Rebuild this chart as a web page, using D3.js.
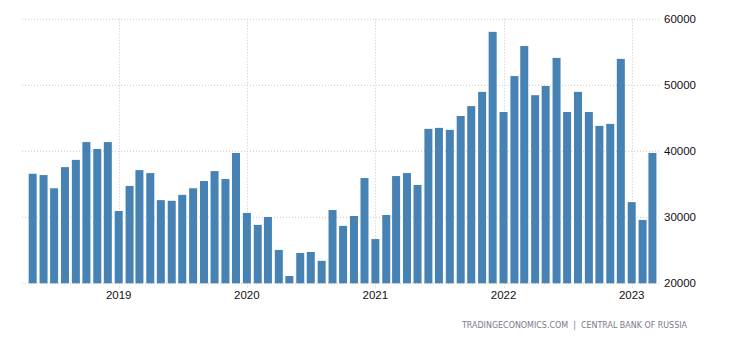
<!DOCTYPE html>
<html><head><meta charset="utf-8">
<script src="https://cdn.jsdelivr.net/npm/d3@7"></script>
<style>html,body{margin:0;padding:0;background:#fff;}svg{display:block;}</style>
</head><body>
<script>
// Monthly values, May 2018 – Mar 2023
const startMonth = "2018-05";
const values = [
  36600, 36400, 34400, 37600, 38700, 41400, 40350, 41400,
  30950, 34750, 37150, 36700, 32600, 32500, 33400, 34400, 35500, 37000, 35800, 39750,
  30650, 28850, 30050, 25050, 21100, 24600, 24750, 23400, 31100, 28700, 30200, 35950,
  26700, 30350, 36250, 36700, 34900, 43400, 43550, 43250, 45350, 46850, 49000, 58100,
  45950, 51400, 55950, 48500, 49900, 54150, 45950, 49000, 45950, 43850, 44150, 54000,
  32300, 29600, 39750
];
const yTicks = [20000, 30000, 40000, 50000, 60000];
const xTickYears = [2019, 2020, 2021, 2022, 2023];
const sourceText = "TRADINGECONOMICS.COM  |  CENTRAL BANK OF RUSSIA";

const W = 730, H = 340;
const parse = d3.timeParse("%Y-%m");
const start = parse(startMonth);
const data = values.map((v, i) => ({ date: d3.timeMonth.offset(start, i), value: v }));

const svg = d3.select("body").append("svg").attr("width", W).attr("height", H);

const x = d3.scaleTime()
  .domain([new Date(2019, 0, 1), new Date(2023, 0, 1)])
  .range([118.7, 631.7]);
const y = d3.scaleLinear().domain([20000, 60000]).range([283.3, 19.3]);

const plotLeft = 22, plotRight = 661;
const gridColor = "#c8c8c8";

// horizontal grid
svg.append("g").selectAll("line").data(yTicks).join("line")
  .attr("x1", plotLeft).attr("x2", plotRight)
  .attr("y1", d => y(d)).attr("y2", d => y(d))
  .attr("stroke", gridColor).attr("stroke-width", 1)
  .attr("stroke-dasharray", "1,2");

// vertical grid
const xTicks = xTickYears.map(yr => new Date(yr, 0, 1));
svg.append("g").selectAll("line").data(xTicks).join("line")
  .attr("x1", d => Math.round(x(d)) + 0.5).attr("x2", d => Math.round(x(d)) + 0.5)
  .attr("y1", y(60000)).attr("y2", y(20000) + 4)
  .attr("stroke", gridColor).attr("stroke-width", 1)
  .attr("stroke-dasharray", "1,2");

// bars
const bw = 8;
svg.append("g").selectAll("rect").data(data).join("rect")
  .attr("x", d => x(d.date) - bw / 2)
  .attr("width", bw)
  .attr("y", d => y(d.value))
  .attr("height", d => y(20000) - y(d.value))
  .attr("fill", "#4682b4");

// y labels
svg.append("g").selectAll("text").data(yTicks).join("text")
  .attr("x", 664)
  .attr("y", d => y(d))
  .attr("dy", "0.35em")
  .attr("font-family", "Liberation Sans, Arial, sans-serif")
  .attr("font-size", 11.5)
  .attr("fill", "#111")
  .text(d => d);

// x labels
svg.append("g").selectAll("text").data(xTicks).join("text")
  .attr("x", d => x(d))
  .attr("y", 298.5)
  .attr("text-anchor", "middle")
  .attr("font-family", "Liberation Sans, Arial, sans-serif")
  .attr("font-size", 11.5)
  .attr("fill", "#111")
  .text(d => d.getFullYear());

// source
svg.append("text")
  .attr("x", 462).attr("y", 327.5)
  .attr("font-family", "DejaVu Sans, Verdana, sans-serif")
  .attr("font-size", 8.5)
  .attr("textLength", 225)
  .attr("lengthAdjust", "spacingAndGlyphs")
  .attr("fill", "#7a7a8a")
  .style("white-space", "pre")
  .text(sourceText);
</script>
</body></html>
